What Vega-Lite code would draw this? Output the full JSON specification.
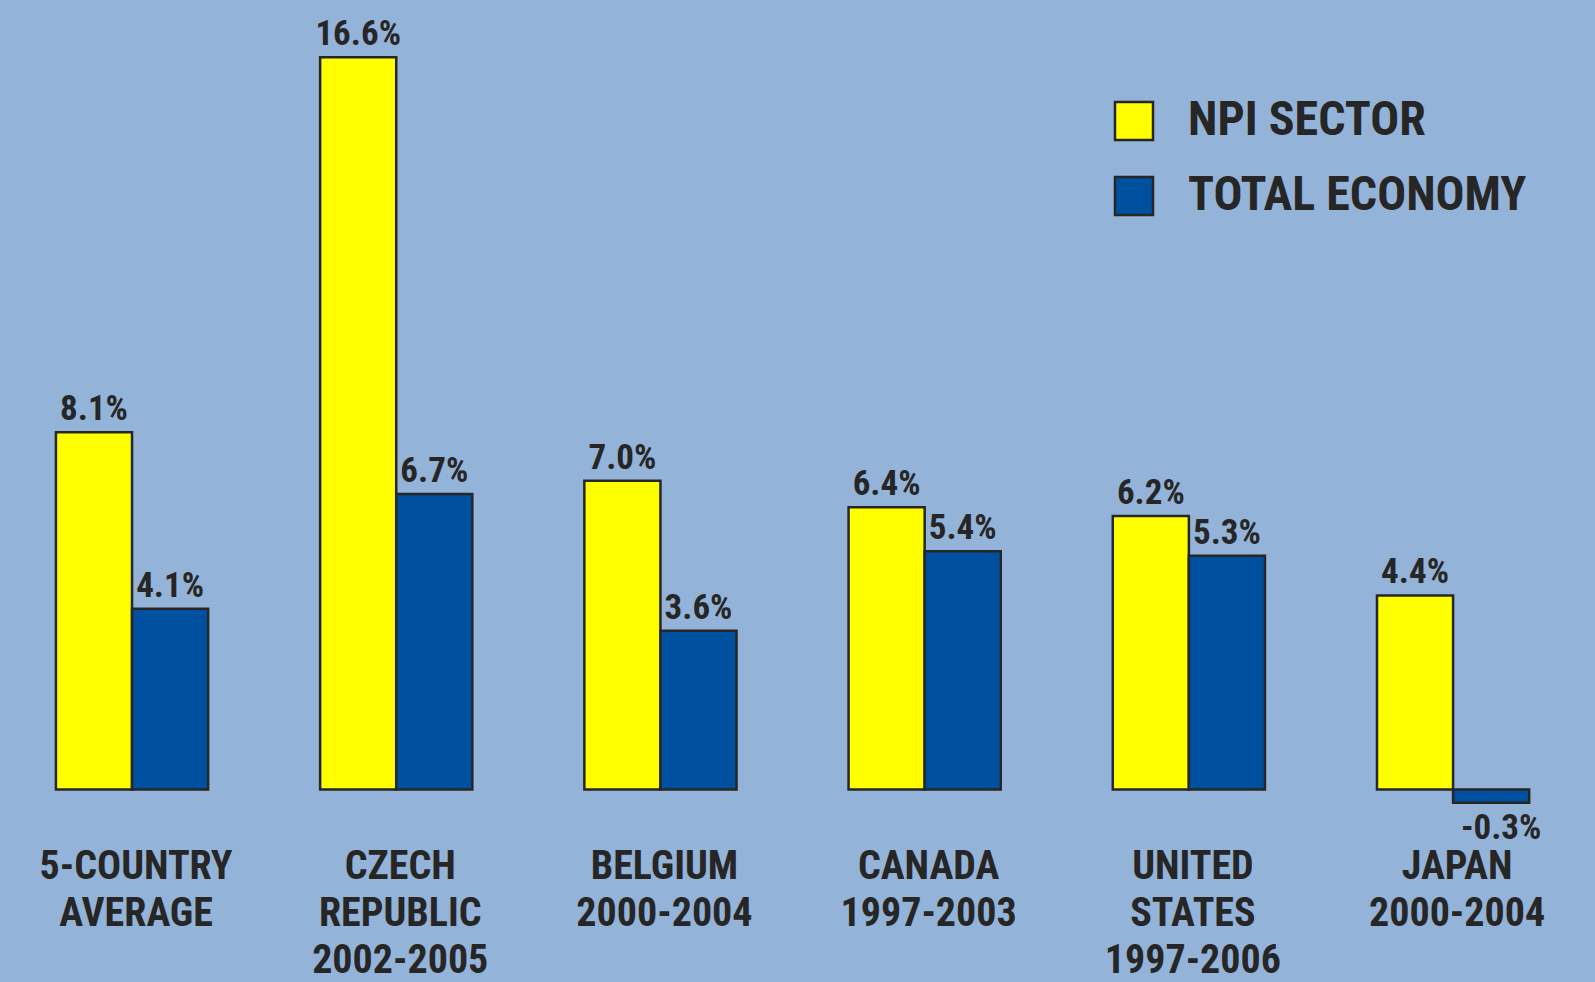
{
  "$schema": "https://vega.github.io/schema/vega-lite/v6.json",
  "width": 1585,
  "height": 982,
  "autosize": {"type": "none"},
  "padding": {"left": 10, "top": 0, "right": 0, "bottom": 0},
  "background": "#94B3D8",
  "config": {"view": {"stroke": null}, "font": "Roboto Condensed"},
  "datasets": {
    "bars": [
      {"group": "5-COUNTRY AVERAGE", "series": "NPI SECTOR", "value": 8.1, "label": "8.1%"},
      {"group": "5-COUNTRY AVERAGE", "series": "TOTAL ECONOMY", "value": 4.1, "label": "4.1%"},
      {"group": "CZECH REPUBLIC 2002-2005", "series": "NPI SECTOR", "value": 16.6, "label": "16.6%"},
      {"group": "CZECH REPUBLIC 2002-2005", "series": "TOTAL ECONOMY", "value": 6.7, "label": "6.7%"},
      {"group": "BELGIUM 2000-2004", "series": "NPI SECTOR", "value": 7.0, "label": "7.0%"},
      {"group": "BELGIUM 2000-2004", "series": "TOTAL ECONOMY", "value": 3.6, "label": "3.6%"},
      {"group": "CANADA 1997-2003", "series": "NPI SECTOR", "value": 6.4, "label": "6.4%"},
      {"group": "CANADA 1997-2003", "series": "TOTAL ECONOMY", "value": 5.4, "label": "5.4%"},
      {"group": "UNITED STATES 1997-2006", "series": "NPI SECTOR", "value": 6.2, "label": "6.2%"},
      {"group": "UNITED STATES 1997-2006", "series": "TOTAL ECONOMY", "value": 5.3, "label": "5.3%"},
      {"group": "JAPAN 2000-2004", "series": "NPI SECTOR", "value": 4.4, "label": "4.4%"},
      {"group": "JAPAN 2000-2004", "series": "TOTAL ECONOMY", "value": -0.3, "label": "-0.3%"}
    ],
    "cats": [
      {"group": "5-COUNTRY AVERAGE", "text": "5-COUNTRY|AVERAGE"},
      {"group": "CZECH REPUBLIC 2002-2005", "text": "CZECH|REPUBLIC|2002-2005"},
      {"group": "BELGIUM 2000-2004", "text": "BELGIUM|2000-2004"},
      {"group": "CANADA 1997-2003", "text": "CANADA|1997-2003"},
      {"group": "UNITED STATES 1997-2006", "text": "UNITED|STATES|1997-2006"},
      {"group": "JAPAN 2000-2004", "text": "JAPAN|2000-2004"}
    ]
  },
  "encoding": {
    "x": {
      "field": "group", "type": "nominal", "sort": null,
      "scale": {"paddingInner": 0.424, "paddingOuter": 0.2115, "align": 0.411},
      "axis": null
    }
  },
  "layer": [
    {
      "data": {"name": "bars"},
      "mark": {"type": "bar", "stroke": "#262626", "strokeWidth": 2.5},
      "encoding": {
        "xOffset": {"field": "series", "type": "nominal", "scale": {"paddingInner": 0, "paddingOuter": 0}},
        "y": {"field": "value", "type": "quantitative", "scale": {"domain": [-4.365, 17.9], "nice": false}, "axis": null},
        "color": {
          "field": "series", "type": "nominal",
          "scale": {"domain": ["NPI SECTOR", "TOTAL ECONOMY"], "range": ["#FFFF00", "#0050A0"]},
          "legend": {
            "orient": "none", "legendX": 1100, "legendY": 97, "title": null,
            "symbolType": "square", "symbolSize": 1444, "symbolStrokeColor": "#262626",
            "symbolStrokeWidth": 2.5, "symbolOpacity": 1,
            "labelFontSize": 48, "labelFont": "Roboto Condensed", "labelFontWeight": "bold",
            "labelColor": "#262626", "labelOffset": 30, "rowPadding": 27, "padding": 0, "labelLimit": 1000
          }
        }
      }
    },
    {
      "data": {"name": "bars"},
      "transform": [{"filter": "datum.value >= 0"}],
      "mark": {"type": "text", "baseline": "alphabetic", "dy": -12, "fontSize": 35, "fontWeight": "bold", "fill": "#262626"},
      "encoding": {
        "xOffset": {"field": "series", "type": "nominal", "scale": {"paddingInner": 0, "paddingOuter": 0}},
        "y": {"field": "value", "type": "quantitative"},
        "text": {"field": "label", "type": "nominal"}
      }
    },
    {
      "data": {"name": "bars"},
      "transform": [{"filter": "datum.value < 0"}],
      "mark": {"type": "text", "baseline": "top", "dy": 8, "dx": 10, "fontSize": 35, "fontWeight": "bold", "fill": "#262626"},
      "encoding": {
        "xOffset": {"field": "series", "type": "nominal", "scale": {"paddingInner": 0, "paddingOuter": 0}},
        "y": {"field": "value", "type": "quantitative"},
        "text": {"field": "label", "type": "nominal"}
      }
    },
    {
      "data": {"name": "cats"},
      "mark": {"type": "text", "lineBreak": "|", "baseline": "top", "fontSize": 40, "lineHeight": 47, "fontWeight": "bold", "fill": "#262626", "dx": 4},
      "encoding": {
        "y": {"datum": -1.3},
        "text": {"field": "text", "type": "nominal"}
      }
    },
    {
      "data": {"name": "bars"},
      "mark": {"type": "rule", "stroke": "#262626", "strokeWidth": 7},
      "encoding": {"y": {"datum": 0}}
    }
  ]
}
